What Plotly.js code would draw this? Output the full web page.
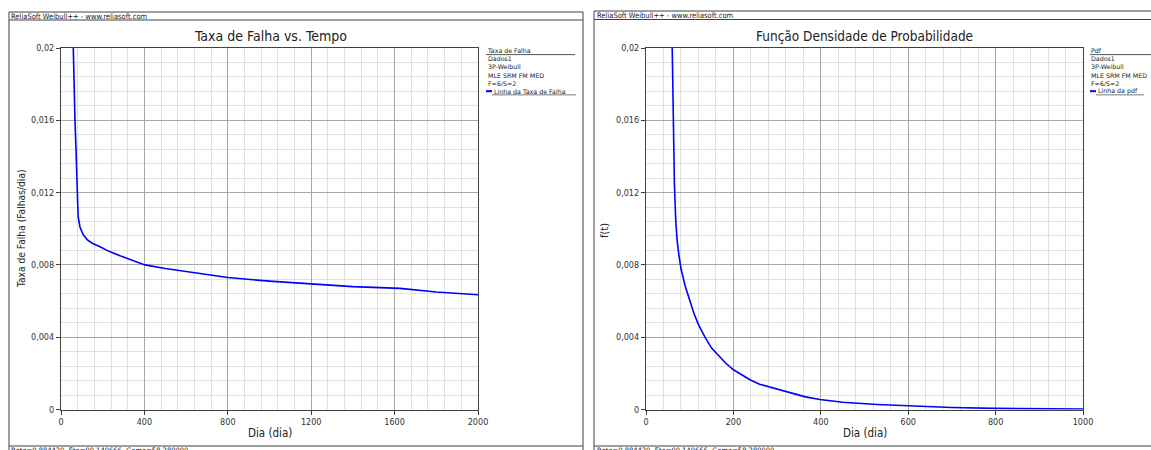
<!DOCTYPE html>
<html><head><meta charset="utf-8">
<script src="https://cdn.plot.ly/plotly-3.0.1.min.js"></script>
<style>html,body{margin:0;padding:0;background:#fff;}#chart{width:1151px;height:450px;}</style>
</head><body><div id="chart"></div>
<script>
// ---- data ----
const hazardDays = [59, 62, 67, 72, 77, 82, 91, 105, 125, 150, 187, 230, 283, 340, 403, 500, 667, 800, 1000, 1146, 1400, 1626, 1800, 2000];
const hazardRate = [0.0200, 0.0177, 0.0160, 0.0144, 0.0129, 0.0107, 0.0101, 0.0097, 0.0094, 0.0092, 0.0090, 0.00875, 0.0085, 0.00825, 0.0080, 0.0078, 0.0075, 0.0073, 0.0071, 0.0070, 0.0068, 0.0067, 0.0065, 0.00635];
const pdfDays = [60, 61, 62, 63, 65, 68, 71, 75, 80, 90, 100, 110, 120, 135, 150, 165, 181, 200, 220, 238, 260, 290, 330, 365, 398, 450, 529, 600, 700, 800, 900, 1000];
const pdfValues = [0.0200, 0.0185, 0.0165, 0.0150, 0.0125, 0.0105, 0.0094, 0.0086, 0.0078, 0.0068, 0.0060, 0.0053, 0.0047, 0.0040, 0.0034, 0.0030, 0.0026, 0.0022, 0.0019, 0.00165, 0.0014, 0.0012, 0.00094, 0.0007, 0.00055, 0.0004, 0.00028, 0.0002, 0.00011, 0.00006, 0.00003, 0.00002];

const leftXTickVals = [0, 400, 800, 1200, 1600, 2000];
const leftXTickText = ["0", "400", "800", "1200", "1600", "2000"];
const rightXTickVals = [0, 200, 400, 600, 800, 1000];
const rightXTickText = ["0", "200", "400", "600", "800", "1000"];
const yTickVals = [0, 0.004, 0.008, 0.012, 0.016, 0.02];
const yTickText = ["0", "0,004", "0,008", "0,012", "0,016", "0,02"];

const headerText = "ReliaSoft Weibull++ - www.reliasoft.com";
const footerText = "Beta=0,884420, Eta=90,140666, Gama=58,280000";
const leftTitle = "Taxa de Falha vs. Tempo";
const rightTitle = "Função Densidade de Probabilidade";
const xTitle = "Dia (dia)";
const leftYTitle = "Taxa de Falha (Falhas/dia)";
const rightYTitle = "f(t)";
const leftLegendTitle = "Taxa de Falha";
const rightLegendTitle = "Pdf";
const legendInfo = ["Dados1", "3P-Weibull", "MLE SRM FM MED", "F=6/S=2"];
const leftLineName = "Linha da Taxa de Falha";
const rightLineName = "Linha da pdf";

// ---- layout helpers ----
const W = 1151, H = 450;
const px = x => x / W;
const py = y => 1 - y / H;
const FONT = '"DejaVu Sans Condensed", "DejaVu Sans", sans-serif';
const SMALL = '"DejaVu Sans", sans-serif';
const DARK = '#404040';
const BLUE = '#0000ff';

function mkAxis(domain, range, tickvals, ticktext, minorDtick, anchor) {
  return {
    domain: domain, range: range, anchor: anchor,
    tickmode: 'array', tickvals: tickvals, ticktext: ticktext,
    showline: true, mirror: true, linecolor: DARK, linewidth: 1,
    ticks: 'outside', ticklen: 4, tickcolor: DARK, tickwidth: 1,
    showgrid: true, gridcolor: '#a8a8a8', gridwidth: 1,
    zeroline: false,
    minor: {dtick: minorDtick, showgrid: true, gridcolor: '#e0e0e0', gridwidth: 1, ticks: ''},
    tickfont: {family: FONT, size: 9, color: '#333'},
    fixedrange: true
  };
}

const plotTop = 48, plotBottom = 409.5;
const yDomain = [py(plotBottom), py(plotTop)];

const traces = [
  {x: hazardDays, y: hazardRate, type: 'scatter', mode: 'lines', xaxis: 'x', yaxis: 'y',
   line: {color: BLUE, width: 1.6}, hoverinfo: 'skip'},
  {x: pdfDays, y: pdfValues, type: 'scatter', mode: 'lines', xaxis: 'x2', yaxis: 'y2',
   line: {color: BLUE, width: 1.6}, hoverinfo: 'skip'}
];

const shapes = [];
function line(x0, y0, x1, y1, color, width) {
  shapes.push({type: 'line', xref: 'paper', yref: 'paper', x0: px(x0), y0: py(y0), x1: px(x1), y1: py(y1),
    line: {color: color || DARK, width: width || 1}});
}
// left panel frame
line(9, 12, 583, 12); line(9, 12, 9, 452); line(583, 12, 583, 452);
line(9, 20, 583, 20); line(9, 446, 583, 446);
// right panel frame
line(594, 11, 1153, 11); line(594, 11, 594, 452);
line(594, 19.5, 1153, 19.5); line(594, 446, 1153, 446);

const annotations = [];
function txt(x, y, text, size, xanchor, opts, family, yanchor) {
  annotations.push(Object.assign({xref: 'paper', yref: 'paper', x: px(x), y: py(y), text: text, showarrow: false,
    xanchor: xanchor || 'left', yanchor: yanchor || 'middle', borderpad: 0, align: 'left',
    font: {family: family || FONT, size: size, color: '#222'}}, opts || {}));
}
// headers / footers
txt(10, 16, headerText, 7.5, 'left');
txt(596, 15.5, headerText, 7.5, 'left');
txt(10, 451, footerText, 7.5, 'left');
txt(596, 451, footerText, 7.5, 'left');
// titles
txt(270.5, 36, leftTitle, 14, 'center');
txt(864.5, 36, rightTitle, 13.5, 'center');
txt(270, 433, xTitle, 11.5, 'center');
txt(864.5, 433, xTitle, 11.5, 'center');
txt(22, 229, leftYTitle, 10.2, 'center', {textangle: -90});
txt(604, 231, rightYTitle, 11, 'center', {textangle: -90});

// legends: one text block (title + info lines), then the line entry
const LF = 6.3, LH = LF * 1.3;
function legend(x0, xEnd, title, lineName) {
  const block = [title].concat(legendInfo).join('<br>');
  txt(x0, 50.2 - LH / 2, block, LF, 'left', {}, SMALL, 'top');
  line(x0, 54.6, xEnd, 54.6, '#555', 1);
  const yLine = 50.2 + 5 * LH;
  line(x0, yLine, x0 + 6, yLine, BLUE, 2);
  txt(x0 + 6.5, yLine, lineName, LF, 'left', {}, SMALL);
}
legend(486, 575, leftLegendTitle, leftLineName);
legend(1090, 1153, rightLegendTitle, rightLineName);
// underline of line names
const yU = 50.2 + 5 * LH + 3.7;
line(492, yU, 576, yU, '#555', 0.8);
line(1096, yU, 1144, yU, '#555', 0.8);

const layout = {
  width: W, height: H,
  margin: {l: 0, r: 0, t: 0, b: 0},
  paper_bgcolor: '#fff', plot_bgcolor: '#fff',
  showlegend: false,
  xaxis: mkAxis([px(61), px(478)], [0, 2000], leftXTickVals, leftXTickText, 80, 'y'),
  yaxis: mkAxis(yDomain, [0, 0.02], yTickVals, yTickText, 0.0008, 'x'),
  xaxis2: mkAxis([px(646), px(1083)], [0, 1000], rightXTickVals, rightXTickText, 40, 'y2'),
  yaxis2: mkAxis(yDomain, [0, 0.02], yTickVals, yTickText, 0.0008, 'x2'),
  shapes: shapes,
  annotations: annotations
};

Plotly.newPlot('chart', traces, layout, {displayModeBar: false, staticPlot: true});
</script>
</body></html>
